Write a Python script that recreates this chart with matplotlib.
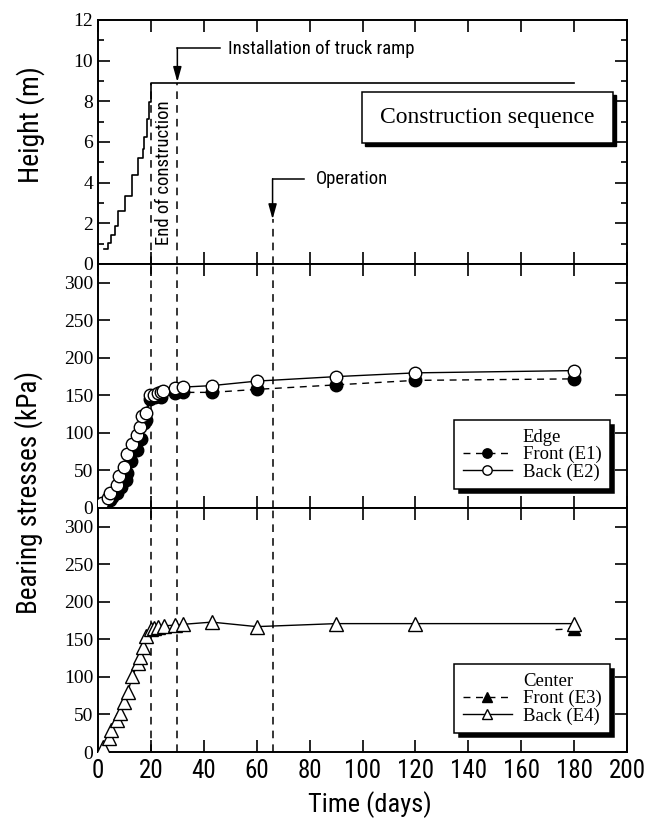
import matplotlib
matplotlib.use("Agg")
import matplotlib.pyplot as plt
from matplotlib import font_manager
from matplotlib.lines import Line2D
from matplotlib.patches import Rectangle
from matplotlib.ticker import MultipleLocator

# ---------------- data ----------------
stage_days = [2.25, 3.75, 4.75, 6.6, 7.75, 10.25, 12.75, 15.0, 16.9, 17.5, 18.5, 19.4, 20.0, 180.0]
stage_height = [0.75, 1.05, 1.45, 1.85, 2.6, 3.35, 4.4, 5.2, 5.65, 6.25, 7.15, 7.95, 8.9, 8.9]

e1_days = [4.4, 5.2, 7.2, 8.8, 10.5, 11.0, 12.6, 14.9, 16.4, 17.4, 18.3, 19.5, 21.4, 24.0, 29.0, 32.0, 43.0, 60.0, 90.0, 120.0, 180.0]
e1_kpa = [11, 15, 20, 28, 37, 46, 62, 77, 92, 113, 117, 145, 148, 148, 153, 154, 154, 158, 164, 170, 172]

e2_days = [1.6, 3.8, 4.7, 7.0, 8.0, 9.8, 11.0, 12.9, 14.9, 15.8, 16.8, 18.0, 19.8, 21.0, 22.7, 24.0, 24.7, 29.0, 32.0, 43.0, 60.0, 90.0, 120.0, 180.0]
e2_kpa = [6, 13, 20, 31, 42, 55, 72, 85, 97, 108, 123, 127, 151, 151, 153, 155, 156, 160, 161, 163, 169, 175, 180, 183]

e3_days = [173.0, 180.0]
e3_kpa = [163, 164]

e4_days = [1.9, 4.2, 5.0, 7.2, 8.2, 10.0, 11.3, 13.0, 15.1, 16.0, 17.0, 18.0, 19.9, 21.0, 22.7, 24.8, 29.0, 32.0, 43.0, 60.0, 90.0, 120.0, 180.0]
e4_kpa = [6, 18, 29, 42, 52, 67, 80, 101, 118, 127, 140, 155, 164, 165, 166, 168, 169, 170, 173, 167, 171, 171, 171]

events_days = [20, 30, 66]
x_ticks = [0, 20, 40, 60, 80, 100, 120, 140, 160, 180, 200]

# ---------------- fonts ----------------
names = {f.name for f in font_manager.fontManager.ttflist}
narrow = [n for n in ['Liberation Sans Narrow', 'Roboto Condensed', 'Open Sans Condensed',
                      'DejaVu Sans Condensed', 'Arial Narrow'] if n in names]
SANS = narrow + ['DejaVu Sans']
SERIF = ['Liberation Serif', 'DejaVu Serif']
STRETCH = 'condensed'

fig = plt.figure(figsize=(6.6, 8.21), dpi=100)
L, R = 98 / 660, 627 / 660
ph = 244 / 821
bottoms = [1 - 264 / 821, 1 - 508 / 821, 1 - 752 / 821]
axes = [fig.add_axes([L, b, R - L, ph]) for b in bottoms]
ax0, ax1, ax2 = axes

for ax in axes:
    ax.set_xlim(0, 200)
    ax.xaxis.set_major_locator(MultipleLocator(20))
    ax.tick_params(axis='both', which='both', direction='in', top=True, right=True, width=1.2)
    ax.tick_params(axis='both', which='major', length=8.5)
    ax.tick_params(axis='both', which='minor', length=4.5)
    for s in ax.spines.values():
        s.set_linewidth(1.4)

dash = (0, (5, 4))

# top panel
ax0.set_ylim(0, 12)
ax0.yaxis.set_major_locator(MultipleLocator(2))
ax0.yaxis.set_minor_locator(MultipleLocator(1))
ax0.plot(stage_days, stage_height, color='black', lw=1.2, drawstyle='steps-post')
ax0.plot([events_days[0]] * 2, [0, 8.9], color='black', lw=1.1, ls=dash)
ax0.plot([events_days[1]] * 2, [0, 8.9], color='black', lw=1.1, ls=dash)
ax0.plot([events_days[2]] * 2, [0, 2.2], color='black', lw=1.1, ls=dash)
# annotation arrows
ax0.plot([46, 30], [10.6, 10.6], color='black', lw=1.1)
ax0.annotate('', xy=(30, 8.95), xytext=(30, 10.62),
             arrowprops=dict(arrowstyle='-|>,head_length=0.9,head_width=0.25', color='black', lw=1.1,
                             shrinkA=0, shrinkB=0))
ax0.text(49, 10.6, 'Installation of truck ramp', family=SANS, stretch=STRETCH, fontsize=13.5,
         va='center', ha='left')
ax0.plot([78, 66], [4.17, 4.17], color='black', lw=1.1)
ax0.annotate('', xy=(66, 2.2), xytext=(66, 4.19),
             arrowprops=dict(arrowstyle='-|>,head_length=0.9,head_width=0.25', color='black', lw=1.1,
                             shrinkA=0, shrinkB=0))
ax0.text(82.5, 4.17, 'Operation', family=SANS, stretch=STRETCH, fontsize=13.5, va='center', ha='left')
ax0.text(24.8, 4.5, 'End of construction', family=SANS, stretch=STRETCH, fontsize=13.5,
         va='center', ha='center', rotation=90)
# construction sequence box with shadow
bx0, by0, bw, bh = 0.499, 0.496, 0.475, 0.209
ax0.add_patch(Rectangle((bx0 + 0.006, by0 - 0.013), bw, bh, transform=ax0.transAxes,
                        facecolor='black', edgecolor='black', zorder=5, clip_on=False))
ax0.add_patch(Rectangle((bx0, by0), bw, bh, transform=ax0.transAxes,
                        facecolor='white', edgecolor='black', lw=1.1, zorder=6, clip_on=False))
ax0.text(bx0 + bw / 2, by0 + bh / 2, 'Construction sequence', transform=ax0.transAxes,
         family=SERIF, fontsize=17, ha='center', va='center', zorder=7)

# middle and bottom panels
for ax in (ax1, ax2):
    ax.set_ylim(0, 325)
    ax.yaxis.set_major_locator(MultipleLocator(50))
    for d in events_days:
        ax.axvline(d, color='black', lw=1.1, ls=dash)

ms = 9
l1, = ax1.plot(e1_days, e1_kpa, color='black', lw=1.0, ls=dash, marker='o', ms=ms,
               mfc='black', mec='black', mew=1.0, zorder=3)
l2, = ax1.plot(e2_days, e2_kpa, color='black', lw=1.0, ls='-', marker='o', ms=ms,
               mfc='white', mec='black', mew=1.0, zorder=4)
blank = Line2D([], [], lw=0, marker=None)
leg_kw = dict(loc='lower right', bbox_to_anchor=(0.968, 0.078), prop={'family': SERIF, 'size': 13.5},
              frameon=True, fancybox=False, edgecolor='black', framealpha=1,
              shadow={'color': 'black', 'alpha': 1, 'ox': 3, 'oy': -3}, handlelength=2.6,
              labelspacing=0.0, handletextpad=0.6, borderpad=0.45, borderaxespad=0,
              markerscale=0.75)
try:
    leg1 = ax1.legend([blank, l1, l2], ['Edge', 'Front (E1)', 'Back (E2)'], **leg_kw)
except Exception:
    leg_kw['shadow'] = {'color': 'black', 'alpha': 1}
    leg1 = ax1.legend([blank, l1, l2], ['Edge', 'Front (E1)', 'Back (E2)'], **leg_kw)
leg1.get_frame().set_linewidth(1.1)

l3, = ax2.plot(e3_days, e3_kpa, color='black', lw=1.0, ls=dash, marker='^', ms=ms,
               mfc='black', mec='black', mew=1.0, markevery=[1], zorder=3)
l4, = ax2.plot(e4_days, e4_kpa, color='black', lw=1.0, ls='-', marker='^', ms=ms + 1,
               mfc='white', mec='black', mew=1.0, zorder=4)
leg2 = ax2.legend([blank, l3, l4], ['Center', 'Front (E3)', 'Back (E4)'], **leg_kw)
leg2.get_frame().set_linewidth(1.1)

# tick labels
for ax in axes:
    for lab in ax.get_yticklabels():
        lab.set_family(SERIF)
        lab.set_fontsize(14)
for ax in (ax0, ax1):
    ax.tick_params(labelbottom=False)
ax2.set_xticks(x_ticks)
ax2.set_xticklabels([str(t) for t in x_ticks], family=SANS, stretch=STRETCH, fontsize=18)
ax2.tick_params(axis='x', pad=5)

fig.text(0.047, 0.848, 'Height (m)', family=SANS, stretch=STRETCH, fontsize=20, rotation=90,
         ha='center', va='center')
fig.text(0.043, 0.40, 'Bearing stresses (kPa)', family=SANS, stretch=STRETCH, fontsize=19.5,
         rotation=90, ha='center', va='center')
fig.text(0.56, 0.0195, 'Time (days)', family=SANS, stretch=STRETCH, fontsize=19, ha='center', va='center')

fig.savefig('out.png', dpi=100)
